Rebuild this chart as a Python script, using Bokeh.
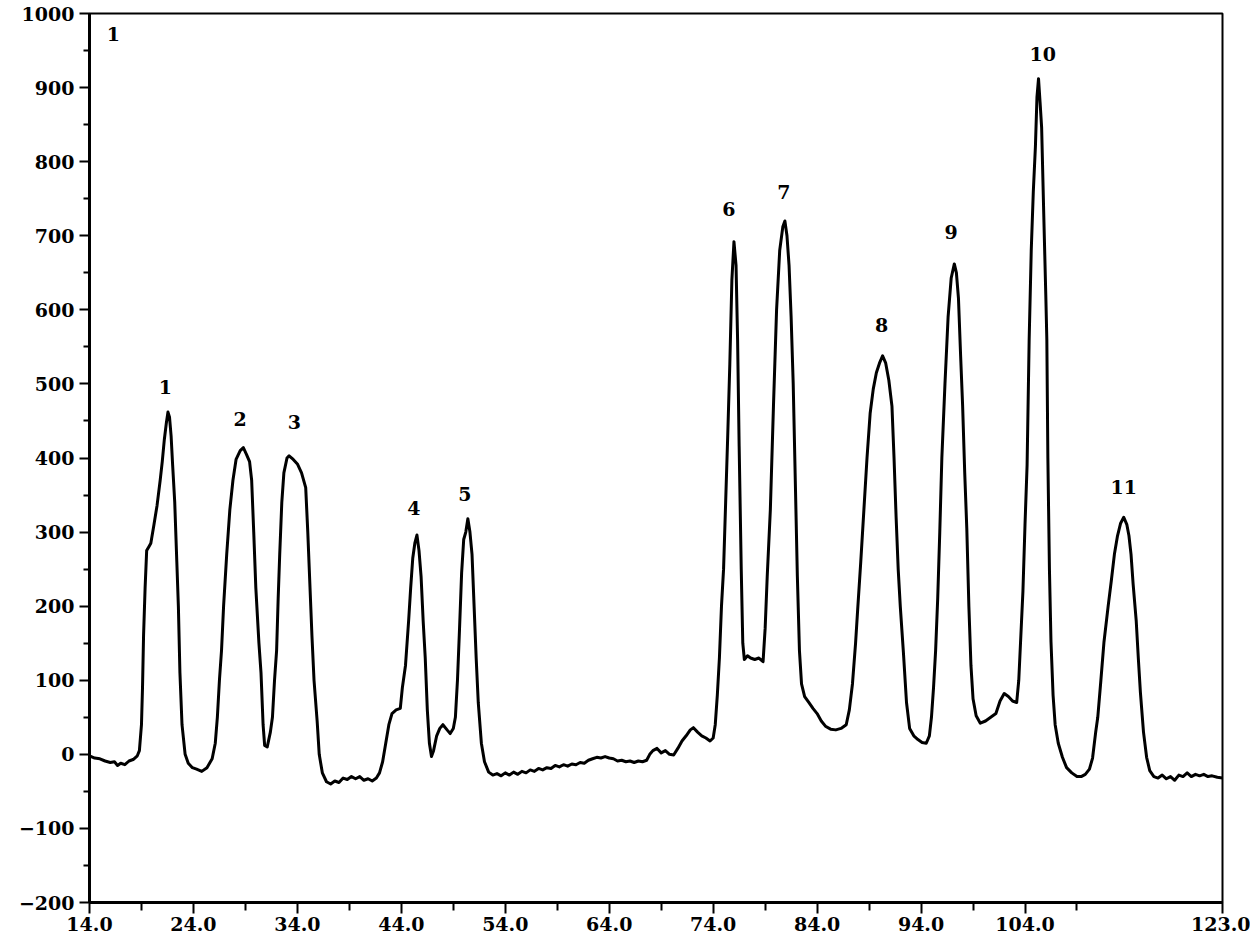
from bokeh.plotting import figure
from bokeh.models import Range1d, FixedTicker, PrintfTickFormatter, ColumnDataSource
from bokeh.core.properties import value
from bokeh.embed import file_html
from bokeh.resources import INLINE

# ---- data (retention time, detector signal) ----
time_min = [
    14.0, 14.5, 15.0, 15.5, 16.0, 16.4, 16.7, 17.0, 17.4, 17.8, 18.2, 18.6, 18.8, 19.0, 19.1, 19.2,
    19.35, 19.5, 19.7, 19.9, 20.2, 20.5, 20.8, 21.0, 21.2, 21.4, 21.55, 21.7, 21.85, 22.0, 22.2, 22.4,
    22.55, 22.7, 22.9, 23.2, 23.5, 23.9, 24.3, 24.8, 25.3, 25.8, 26.1, 26.3, 26.5, 26.7, 26.9, 27.2,
    27.5, 27.8, 28.1, 28.5, 28.8, 29.1, 29.4, 29.6, 29.8, 30.0, 30.3, 30.5, 30.7, 30.85, 31.1, 31.4,
    31.6, 31.8, 32.0, 32.15, 32.3, 32.5, 32.7, 33.0, 33.2, 33.6, 34.0, 34.4, 34.8, 35.0, 35.2, 35.4,
    35.6, 35.9, 36.1, 36.4, 36.8, 37.2, 37.6, 38.0, 38.4, 38.8, 39.2, 39.6, 40.0, 40.4, 40.8, 41.2,
    41.6, 41.9, 42.2, 42.5, 42.8, 43.1, 43.5, 43.9, 44.1, 44.4, 44.7, 44.9, 45.1, 45.3, 45.5, 45.7,
    45.9, 46.1, 46.3, 46.5, 46.7, 46.9, 47.1, 47.4, 47.7, 48.0, 48.4, 48.7, 49.0, 49.2, 49.4, 49.6,
    49.8, 50.0, 50.2, 50.4, 50.6, 50.8, 51.0, 51.2, 51.4, 51.7, 52.0, 52.4, 52.8,
    53.2, 53.6, 54.0, 54.4, 54.8, 55.2, 55.6, 56.0, 56.4, 56.8, 57.2, 57.6, 58.0, 58.4, 58.8, 59.2,
    59.6, 60.0, 60.4, 60.8, 61.2, 61.6, 62.0, 62.4, 62.8, 63.2, 63.6, 64.0, 64.4, 64.8, 65.2, 65.6,
    66.0, 66.4, 66.8, 67.2, 67.6, 67.9, 68.2, 68.6, 69.0, 69.4, 69.8, 70.2, 70.6, 71.0, 71.4, 71.8,
    72.1, 72.5, 72.9, 73.3, 73.7, 74.0, 74.2, 74.4, 74.6, 74.8, 75.0, 75.2, 75.4, 75.6, 75.8, 76.0,
    76.2, 76.35, 76.5, 76.7, 76.85, 77.0, 77.3, 77.6, 78.0, 78.4, 78.8, 79.0, 79.2, 79.5, 79.8, 80.1,
    80.4, 80.7, 80.9, 81.1, 81.3, 81.5, 81.7, 81.9, 82.1, 82.3, 82.5, 82.8, 83.2, 83.6, 84.0, 84.4,
    84.8, 85.3, 85.8, 86.3, 86.8, 87.1, 87.4, 87.7, 87.9, 88.2, 88.5, 88.8, 89.1, 89.4, 89.7, 90.0,
    90.3, 90.6, 90.9, 91.2, 91.4, 91.6, 91.8, 92.0, 92.3, 92.6, 92.9, 93.3, 93.7, 94.1, 94.5, 94.8,
    95.0, 95.2, 95.4, 95.6, 95.8, 96.0, 96.3, 96.6, 96.9, 97.2, 97.4, 97.6, 97.8, 98.0, 98.2, 98.4,
    98.6, 98.8, 99.0, 99.3, 99.7, 100.2, 100.7, 101.2, 101.6, 102.0, 102.4, 102.8, 103.2, 103.4, 103.6, 103.8,
    104.0, 104.2, 104.4, 104.6, 104.8, 105.0, 105.15, 105.3, 105.45, 105.6, 105.8, 106.0, 106.1, 106.2, 106.35, 106.5,
    106.7, 106.9, 107.2, 107.6, 108.0, 108.5, 109.0, 109.4, 109.8, 110.2, 110.5, 110.8, 111.0, 111.3, 111.6, 112.0,
    112.3, 112.6, 112.9, 113.2, 113.5, 113.8, 114.0, 114.2, 114.4, 114.7, 114.9, 115.1, 115.4, 115.7, 116.0, 116.4,
    116.8, 117.2, 117.6, 118.0, 118.4, 118.8, 119.2, 119.6, 120.0, 120.4, 120.8, 121.2, 121.6, 122.0, 122.5, 123.0,
]
signal = [
    -2, -5, -6, -9, -11, -10, -15, -12, -14, -9, -7, -2, 5, 40, 90, 160,
    225, 275, 280, 285, 310, 336, 370, 395, 425, 448, 462, 455, 430, 390, 340, 260,
    200, 110, 40, 0, -12, -18, -20, -23, -18, -6, 15, 50, 100, 140, 200, 270,
    330, 370, 398, 410, 414, 405, 395, 370, 300, 225, 150, 110, 40, 12, 10, 30,
    50, 100, 140, 210, 270, 340, 380, 400, 403, 398, 392, 380, 360, 300, 230, 160,
    100, 45, 0, -25, -37, -40, -36, -38, -32, -34, -30, -33, -30, -35, -33, -36,
    -32, -25, -10, 15, 40, 55, 60, 62, 90, 120, 180, 225, 265, 285, 296, 275,
    240, 180, 130, 60, 15, -3, 5, 25, 35, 40, 33, 28, 35, 50, 100, 170,
    245, 290, 300, 318, 300, 270, 200, 130, 70, 15, -10, -24, -28,
    -26, -29, -25, -28, -24, -27, -23, -25, -21, -23, -19, -21, -18, -19, -15, -17,
    -14, -16, -13, -14, -11, -12, -8, -6, -4, -5, -3, -5, -6, -9, -8, -10,
    -9, -11, -9, -10, -8, 0, 5, 8, 2, 5, 0, -1, 8, 18, 25, 33,
    36, 30, 25, 22, 18, 22, 40, 80, 130, 200, 250, 340, 430, 526, 640, 692,
    660, 560, 416, 250, 150, 128, 133, 130, 128, 130, 125, 170, 240, 330, 470, 600,
    680, 712, 720, 700, 660, 590, 500, 370, 240, 140, 95, 78, 70, 62, 55, 45,
    38, 34, 33, 35, 40, 60, 95, 150, 195, 260, 330, 400, 460, 493, 515, 528,
    538, 528, 505, 470, 400, 320, 250, 200, 138, 70, 35, 25, 20, 16, 15, 25,
    50, 90, 140, 210, 300, 400, 500, 590, 643, 662, 650, 615, 540, 470, 380, 305,
    200, 120, 75, 52, 42, 45, 50, 55, 72, 82, 78, 72, 70, 100, 160, 220,
    310, 390, 560, 680, 760, 820, 887, 912, 880, 846, 731, 620, 560, 400, 250, 152,
    80, 40, 15, -4, -18, -25, -30, -30, -27, -20, -5, 30, 50, 100, 152, 200,
    234, 270, 295, 312, 320, 310, 295, 270, 230, 180, 130, 84, 30, -4, -22, -30,
    -32, -28, -33, -30, -35, -28, -30, -25, -30, -27, -29, -27, -30, -29, -31, -32,
]

peak_names = ["1", "2", "3", "4", "5", "6", "7", "8", "9", "10", "11"]
peak_label_x = [21.3, 28.5, 33.7, 45.2, 50.1, 75.5, 80.8, 90.2, 96.9, 105.7, 113.5]
peak_label_y = [496, 452, 449, 332, 351, 736, 759, 579, 705, 945, 361]

panel_tag = "1"
x_ticks = [14, 24, 34, 44, 54, 64, 74, 84, 94, 104, 123]
x_minor_ticks = [19, 29, 39, 49, 59, 69, 79, 89, 99, 109]
y_ticks = [-200, -100, 0, 100, 200, 300, 400, 500, 600, 700, 800, 900, 1000]
y_minor_ticks = [-150, -50, 50, 150, 250, 350, 450, 550, 650, 750, 850, 950]

FONT = "DejaVu Serif"

p = figure(
    width=1250, height=935,
    x_range=Range1d(14, 123), y_range=Range1d(-200, 1000),
    output_backend="svg", toolbar_location=None,
    min_border_left=89, min_border_right=28, min_border_top=13, min_border_bottom=33,
)
p.background_fill_color = "white"
p.border_fill_color = "white"
p.outline_line_color = "black"
p.outline_line_width = 2
p.xgrid.visible = False
p.ygrid.visible = False

p.line(time_min, signal, line_color="black", line_width=3, line_join="round")

src = ColumnDataSource(dict(x=peak_label_x, y=peak_label_y, t=peak_names))
p.text(x="x", y="y", text="t", source=src, text_align="center", text_baseline="middle",
       text_font=value(FONT), text_font_style="bold", text_font_size="19px", text_color="black")
p.text(x=[16.3], y=[973], text=[panel_tag], text_align="center", text_baseline="middle",
       text_font=value(FONT), text_font_style="bold", text_font_size="19px", text_color="black")

xa = p.xaxis[0]
xa.ticker = FixedTicker(ticks=x_ticks, minor_ticks=x_minor_ticks)
xa.formatter = PrintfTickFormatter(format="%.1f")
ya = p.yaxis[0]
ya.ticker = FixedTicker(ticks=y_ticks, minor_ticks=y_minor_ticks)

for ax in (xa, ya):
    ax.axis_line_color = "black"
    ax.axis_line_width = 3
    ax.major_tick_line_color = "black"
    ax.minor_tick_line_color = "black"
    ax.major_tick_line_width = 2
    ax.minor_tick_line_width = 2
    ax.major_tick_in = 0
    ax.minor_tick_in = 0
    ax.major_label_text_font = FONT
    ax.major_label_text_font_style = "bold"
    ax.major_label_text_font_size = "19px"
    ax.major_label_text_color = "black"

xa.major_tick_out = 11
xa.minor_tick_out = 8
xa.major_label_standoff = 3
ya.major_tick_out = 10
ya.minor_tick_out = 6
ya.major_label_standoff = 5

open("out.html", "w").write(file_html(p, INLINE))
